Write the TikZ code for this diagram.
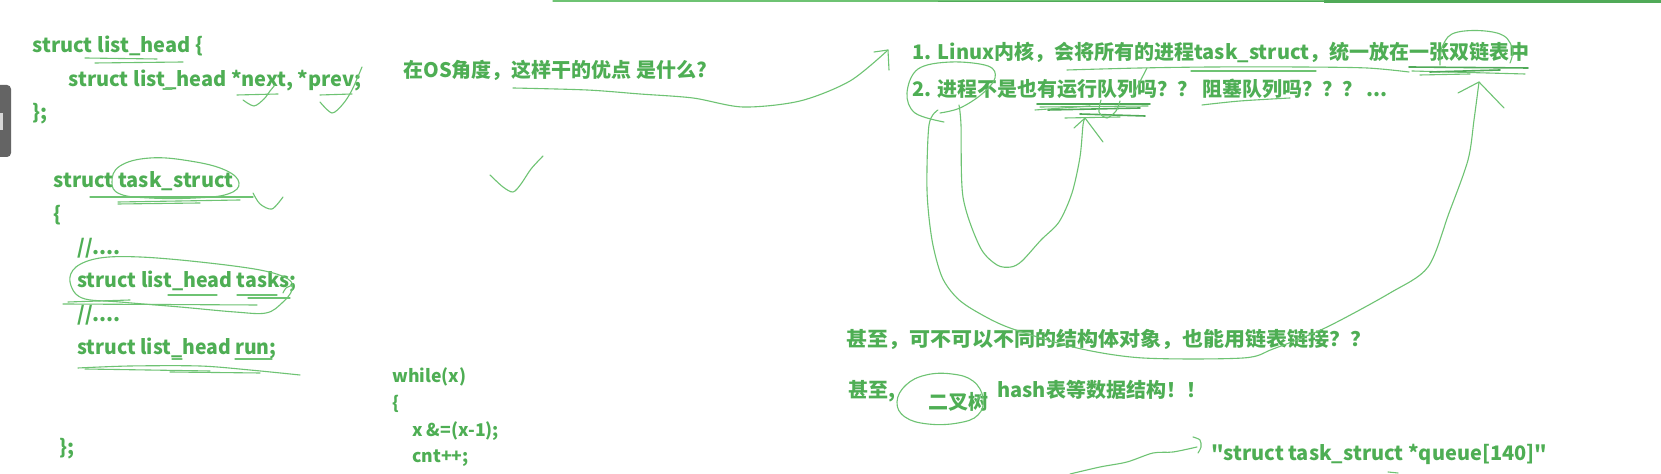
\documentclass[tikz,border=0pt]{standalone}
\usepackage{fontspec}
\setmainfont{Noto Sans CJK SC}[Ligatures=TeXOff]
\definecolor{txt}{RGB}{78,174,84}
\definecolor{penc}{RGB}{110,195,115}
\definecolor{pend}{RGB}{80,170,88}
\definecolor{tabc}{RGB}{100,100,100}
\definecolor{tabl}{RGB}{215,215,215}
\tikzset{
  code/.style={anchor=base west, inner sep=0pt, text=txt, font=\fontsize{10}{12}\selectfont\bfseries},
  small/.style={code, font=\fontsize{8.8}{11}\selectfont\bfseries},
  pen/.style={draw=penc, line width=0.55pt, line cap=round, line join=round},
  scrib/.style={draw=pend, line width=0.8pt, line cap=round, line join=round},
}
\begin{document}
\begin{tikzpicture}[x=0.5pt,y=-0.5pt]
\useasboundingbox[fill=white] (0,0) rectangle (1661,474);
% side tab
\fill[tabc, rounded corners=2pt] (-6,85) rectangle (11,157);
\fill[tabl] (0,113) rectangle (3,130);
% top lines
\draw[pen] (553,1) -- (1325,1);
\draw[draw=pend, line width=0.9pt] (938,1.5) -- (1324,1.5);
\draw[draw=pend, line width=1.5pt] (1324,1.5) -- (1661,1.5);
% code text
\node[code] (l1) at (32,53) {struct list\_head \{};
\node[code] (l2) at (68,87) {struct list\_head *next, *prev;};
\node[code] (l3) at (32,120) {\};};
\node[code] (t1) at (53,188) {struct task\_struct};
\node[code] (t2) at (53,222) {\{};
\node[code] (t3) at (77,255) {//....};
\node[code, xscale=0.98] (t4) at (77,288) {struct list\_head tasks;};
\node[code] (t5) at (77,322) {//....};
\node[code, xscale=0.97] (t6) at (77,355) {struct list\_head run;};
\node[code] (t7) at (59,455) {\};};
\node[code] (q1) at (403,78) {在OS角度，这样干的优点 是什么?};
\node[code] (r1) at (912,60) {1. Linux内核，会将所有的进程task\_struct，统一放在一张双链表中};
\node[code] (r2) at (912,97) {2. 进程不是也有运行队列吗？？ 阻塞队列吗？？？ ...};
\node[code, xscale=1.05] (s1) at (846,347) {甚至，可不可以不同的结构体对象，也能用链表链接？？};
\node[code] (s2) at (848,398) {甚至,};
\node[code] (s3) at (928,410) {二叉树};
\node[code] (s4) at (997,398) {hash表等数据结构！！};
\node[small] (w1) at (392,383) {while(x)};
\node[small] (w2) at (392,410) {\{};
\node[small] (w3) at (412,437) {x \&=(x-1);};
\node[small] (w4) at (412,463) {cnt++;};
\node[code] (qq) at (1211,461) {"struct task\_struct *queue[140]"};
% list_head underlines
\draw[pen] (85,58) -- (157,59);
\draw[pen] (95,63) -- (183,62);
\draw[pen] (163,89) -- (172,89);
% next / prev checks
\draw[pen] (237,95) -- (278,94);
\draw[pen] plot[smooth] coordinates {(243,100) (254,106) (264,99) (270,91) (275,85)};
\draw[pen] (320,95) -- (352,94);
\draw[pen] plot[smooth] coordinates {(320,102) (332,113) (343,104) (352,90) (362,67)};
% task_struct oval
\draw[pen] plot[smooth cycle, tension=0.7] coordinates {(112,182) (120,166) (150,158) (190,161) (225,170) (239,183) (228,194) (195,198) (150,198) (120,194)};
\draw[pen] (90,197) -- (253,197);
\draw[pen] (118,202) -- (240,200);
\draw[pen] (118,204) -- (200,203);
\draw[pen] plot[smooth] coordinates {(253,193) (260,204) (272,209) (283,197)};
% tasks oval
\draw[pen] plot[smooth cycle, tension=0.6] coordinates {(70,282) (76,267) (100,258) (140,257) (200,262) (260,270) (288,279) (292,290) (282,303) (266,313) (235,312) (180,307) (120,302) (82,298)};
\draw[pen] (63,304) -- (257,305);
\draw[pen] (68,302) -- (130,300);
\draw[pen] (168,295) -- (217,295);
\draw[pen] (237,295) -- (277,295);
\draw[pen] (248,298) -- (290,298);
\draw[pen] plot[smooth] coordinates {(283,293) (286,288) (293,285)};
% run underlines
\draw[pen] plot[smooth] coordinates {(78,368) (130,366) (200,366) (250,370) (300,375)};
\draw[pen] (85,369) -- (210,371);
\draw[pen] (170,372) -- (260,373);
\draw[pen] (235,359) -- (272,359);
\draw[pen] (172,359) -- (182,359);
% question curve -> item 1
\draw[pen] plot[smooth, tension=0.5] coordinates {(513,88) (587,90) (640,94) (693,98) (743,107) (800,101) (850,81) (888,50)};
\draw[pen] (874,52) -- (888,50) -- (889,70);
% check below question
\draw[pen] plot[smooth] coordinates {(490,175) (503,187) (513,192) (521,184) (531,169) (543,156)};
% loop around 1./2.
\draw[pen] plot[smooth, tension=0.6] coordinates {(944,122) (915,113) (907,93) (918,69) (951,62) (988,66) (995,78) (982,94) (960,108) (940,113)};
% outer long curve
\draw[pen] plot[smooth, tension=0.5] coordinates {(938,110) (929,125) (927,190) (932,240) (942,277) (957,298) (977,312) (1010,328) (1077,348) (1143,358) (1243,358) (1273,349) (1325,328) (1390,293) (1428,267) (1449,213) (1468,160) (1474,120) (1479,82)};
\draw[pen] (1458,93) -- (1479,82) -- (1504,108);
% inner U curve
\draw[pen] plot[smooth, tension=0.5] coordinates {(959,105) (961,125) (963,197) (980,247) (997,265) (1011,267) (1022,261) (1041,240) (1059,222) (1072,193) (1080,157) (1083,125) (1085,118)};
\draw[pen] (1074,128) -- (1085,118) -- (1103,142);
% scribbles under 运行队列
\draw[scrib] (1037,104) -- (1150,104);
\draw[pen] (1040,107) -- (1148,106);
\draw[scrib] (1048,110) -- (1140,108);
\draw[pen] (1035,110) -- (1090,106);
\draw[scrib] (1080,114) -- (1145,116);
\draw[pen] (1065,118) -- (1120,117);
\draw[pen] plot[smooth] coordinates {(1101,100) (1099,112) (1107,118) (1116,111) (1120,101)};
% underline 阻塞队列
\draw[pen] plot[smooth] coordinates {(1202,105) (1240,101) (1290,98)};
% underline line 1
\draw[pen] plot[smooth] coordinates {(1067,70) (1140,68) (1212,67) (1300,67) (1367,68) (1409,72)};
\draw[pen] (1191,71) -- (1316,71);
\draw[pen] (1147,68) -- (1132,97);
% scribbles under 双链表中
\draw[scrib] (1409,67) -- (1528,68);
\draw[pen] (1412,71) -- (1525,74);
\draw[scrib] (1430,72) -- (1500,70);
\draw[pen] (1420,75) -- (1470,74);
\draw[pen] plot[smooth, tension=0.7] coordinates {(1440,65) (1443,45) (1458,32) (1497,33) (1512,47) (1510,63)};
% 二叉树 oval
\draw[pen] plot[smooth cycle, tension=0.7] coordinates {(897,402) (906,385) (926,375) (952,374) (973,381) (983,398) (978,415) (958,423) (928,424) (905,417)};
\draw[pen] (976,402) -- (981,394);
% bottom arrow
\draw[pen] plot[smooth, tension=0.5] coordinates {(1070,474) (1100,467) (1127,462) (1153,453) (1173,452) (1197,447)};
\draw[pen] plot[smooth] coordinates {(1193,437) (1200,440) (1201,447) (1198,453)};
\draw[pen] (1388,472) -- (1398,473);
\end{tikzpicture}
\end{document}
